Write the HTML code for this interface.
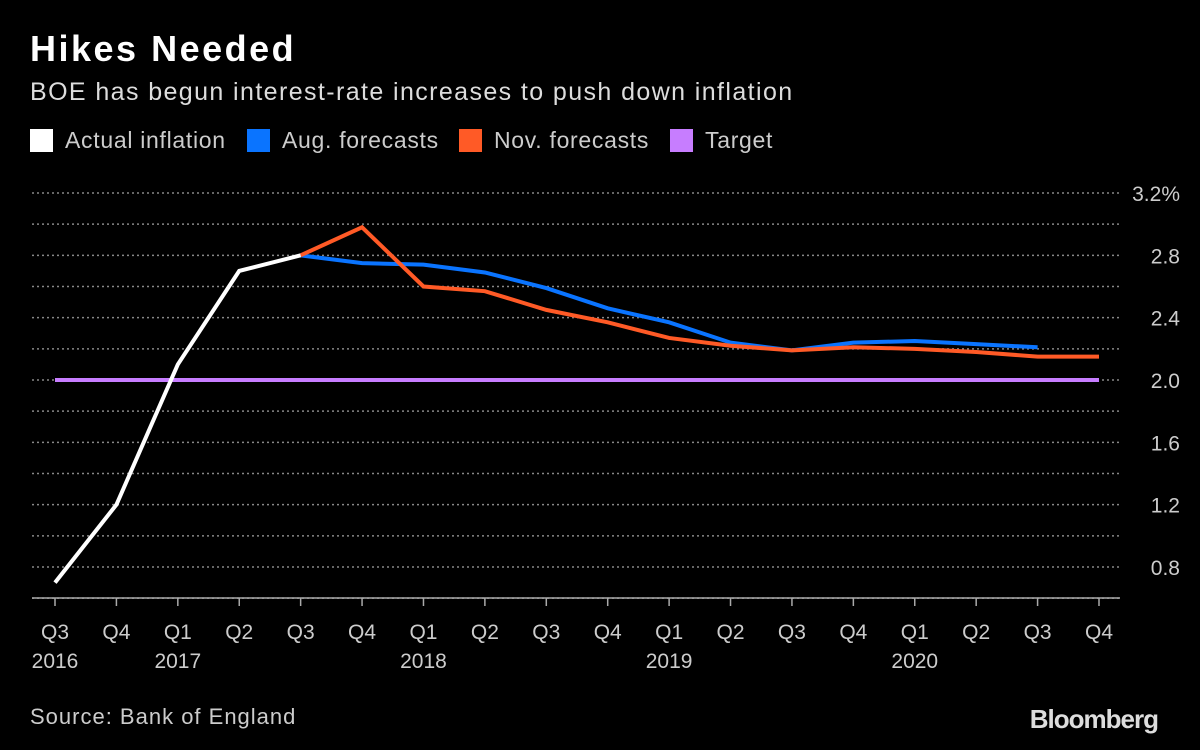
<!DOCTYPE html>
<html><head><meta charset="utf-8">
<style>
html,body{margin:0;padding:0;background:#000;}
body{width:1200px;height:750px;overflow:hidden;font-family:"Liberation Sans",sans-serif;color:#fff;position:relative;}
#title{position:absolute;left:30px;top:28px;font-size:36px;font-weight:bold;letter-spacing:2.5px;}
#subtitle{position:absolute;left:30px;top:78px;font-size:25px;color:#ddd;letter-spacing:1.4px;}
#legend{position:absolute;left:0;top:127px;font-size:23px;color:#ccc;width:1200px;height:30px;}
.le{position:absolute;top:0;display:flex;align-items:center;letter-spacing:0.7px;}
.sw{width:23px;height:23px;margin-right:12px;}
#source{position:absolute;left:30px;top:704px;font-size:22px;color:#ccc;letter-spacing:1px;}
#brand{position:absolute;right:42px;top:704px;font-size:26px;font-weight:bold;color:#ddd;letter-spacing:-1px;}
svg{position:absolute;left:0;top:0;}
</style></head><body>
<div id="title">Hikes Needed</div>
<div id="subtitle">BOE has begun interest-rate increases to push down inflation</div>
<div id="legend">
<div class="le" style="left:30px"><div class="sw" style="background:#fff"></div>Actual inflation</div>
<div class="le" style="left:247px"><div class="sw" style="background:#0a74ff"></div>Aug. forecasts</div>
<div class="le" style="left:459px"><div class="sw" style="background:#ff5a26"></div>Nov. forecasts</div>
<div class="le" style="left:670px"><div class="sw" style="background:#c77dff"></div>Target</div>
</div>
<svg id="chart" width="1200" height="750"></svg>
<div id="source">Source: Bank of England</div>
<div id="brand">Bloomberg</div>
<script>
const quarters=["Q3","Q4","Q1","Q2","Q3","Q4","Q1","Q2","Q3","Q4","Q1","Q2","Q3","Q4","Q1","Q2","Q3","Q4"];
const years=["2016","","2017","","","","2018","","","","2019","","","","2020","","",""];
const actual=[0.7,1.2,2.1,2.7,2.8];
const augForecast=[null,null,null,null,2.8,2.75,2.74,2.69,2.59,2.46,2.37,2.24,2.19,2.24,2.25,2.23,2.21];
const novForecast=[null,null,null,null,2.8,2.98,2.6,2.57,2.45,2.37,2.27,2.22,2.19,2.21,2.2,2.18,2.15,2.15];
const target=2.0;
const yTicks=[0.8,1.2,1.6,2.0,2.4,2.8,3.2];
const x0=55,x1=1099,yTop=193,yBot=567,vTop=3.2,vBot=0.8;
const X=i=>x0+i*(x1-x0)/(quarters.length-1);
const Y=v=>yTop+(vTop-v)*(yBot-yTop)/(vTop-vBot);
const svg=document.getElementById('chart');
const NS='http://www.w3.org/2000/svg';
function mk(t,a){const e=document.createElementNS(NS,t);for(const k in a)e.setAttribute(k,a[k]);svg.appendChild(e);return e;}
for(let v=0.6;v<=3.21;v+=0.2){
 const g=mk('line',{x1:32,x2:1120,y1:Y(v),y2:Y(v),stroke:'#888','stroke-width':1.5,'stroke-dasharray':'2,3'});
 
 
}
yTicks.forEach((v,i)=>{
 const t=mk('text',{x:1180,y:Y(v)+8,'text-anchor':'end',fill:'#ccc','font-size':21,'font-family':'Liberation Sans, sans-serif'});
 t.textContent=(i==yTicks.length-1)?v.toFixed(1)+'%':v.toFixed(1);
 
 
});
const ax=mk('line',{x1:32,x2:1120,y1:598,y2:598,stroke:'#aaa','stroke-width':1.5});


quarters.forEach((q,i)=>{
 const tk=mk('line',{x1:X(i),x2:X(i),y1:598,y2:606,stroke:'#aaa','stroke-width':1.5});
 
 
 const t=mk('text',{x:X(i),y:639,'text-anchor':'middle',fill:'#ccc','font-size':21,'font-family':'Liberation Sans, sans-serif'});
 t.textContent=q;
 
 
 if(years[i]){const y=mk('text',{x:X(i),y:668,'text-anchor':'middle',fill:'#ccc','font-size':21,'font-family':'Liberation Sans, sans-serif'});
 y.textContent=years[i];
 
 }
});
const tl=mk('line',{x1:X(0),x2:X(quarters.length-1),y1:Y(target),y2:Y(target),stroke:'#c77dff','stroke-width':4});


function series(arr,color,name){
 const pts=arr.map((v,i)=>v==null?null:X(i)+','+Y(v)).filter(p=>p);
 const p=mk('polyline',{points:pts.join(' '),fill:'none',stroke:color,'stroke-width':4,'stroke-linejoin':'miter'});
 
 
}
series(augForecast,'#0a74ff','aug-forecast-line');
series(novForecast,'#ff5a26','nov-forecast-line');
series(actual,'#ffffff','actual-inflation-line');
</script>
</body></html>
